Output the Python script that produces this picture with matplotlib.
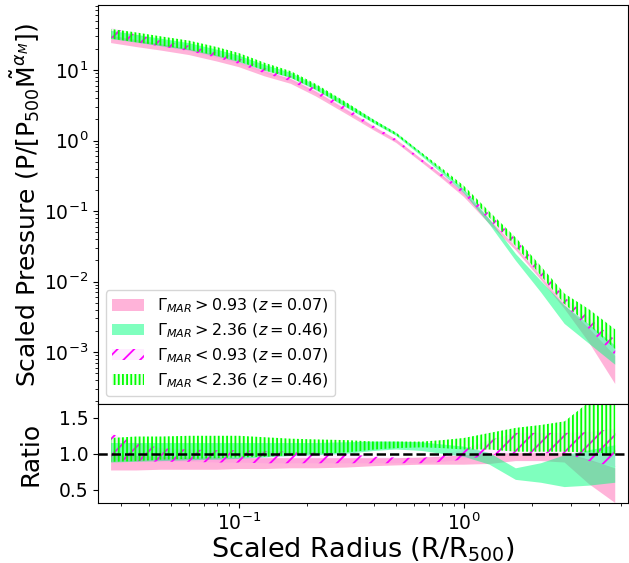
import matplotlib
matplotlib.use("Agg")
import matplotlib.pyplot as plt
import numpy as np

# radial bins (R/R500)
radius = [0.027, 0.035, 0.045, 0.06, 0.08, 0.1, 0.13, 0.17, 0.22, 0.3, 0.4,
          0.5, 0.65, 0.8, 1.0, 1.3, 1.7, 2.2, 2.8, 3.6, 4.7]

# reference (median) scaled pressure profile used for the ratio
ref_pressure = [31.3, 27.5, 24.2, 20.9, 16.9, 13.9, 10.3, 7.96, 5.27, 2.93, 1.66,
                1.10, 0.571, 0.338, 0.186, 0.0755, 0.0308, 0.0117, 0.00464,
                0.00234, 0.00110]

# ratio bands (lower, upper) for each subsample
hi_z007_lo = [0.77, 0.77, 0.78, 0.78, 0.78, 0.79, 0.79, 0.80, 0.80, 0.81, 0.83,
              0.84, 0.85, 0.85, 0.85, 0.86, 0.90, 0.90, 0.88, 0.58, 0.32]
hi_z007_hi = [0.98, 0.97, 0.96, 0.95, 0.95, 0.94, 0.94, 0.94, 0.94, 0.94, 0.94,
              0.94, 0.95, 0.96, 0.98, 1.00, 1.01, 1.01, 1.01, 0.92, 0.80]

hi_z046_lo = [0.88, 0.89, 0.90, 0.91, 0.92, 0.93, 0.95, 0.97, 0.98, 1.00, 1.04,
              1.06, 1.04, 1.00, 0.96, 0.85, 0.64, 0.60, 0.54, 0.56, 0.60]
hi_z046_hi = [1.15, 1.15, 1.15, 1.15, 1.15, 1.15, 1.15, 1.15, 1.15, 1.16, 1.17,
              1.17, 1.16, 1.13, 1.10, 1.01, 0.80, 0.87, 0.98, 1.05, 1.12]

lo_z007_lo = [0.92, 0.90, 0.89, 0.89, 0.88, 0.88, 0.87, 0.87, 0.87, 0.87, 0.87,
              0.87, 0.87, 0.89, 0.92, 0.98, 1.01, 1.01, 1.01, 0.90, 0.82]
lo_z007_hi = [1.28, 1.15, 1.08, 1.06, 1.05, 1.05, 1.04, 1.03, 1.02, 1.00, 0.96,
              0.95, 0.94, 0.99, 1.06, 1.19, 1.29, 1.29, 1.29, 1.30, 1.35]

lo_z046_lo = [0.89, 0.90, 0.92, 0.93, 0.94, 0.95, 0.96, 0.98, 1.00, 1.02, 1.06,
              1.08, 1.09, 1.08, 1.06, 1.06, 1.03, 1.03, 1.03, 1.02, 1.00]
lo_z046_hi = [1.22, 1.24, 1.24, 1.25, 1.25, 1.25, 1.23, 1.21, 1.20, 1.19, 1.17,
              1.17, 1.17, 1.19, 1.22, 1.29, 1.36, 1.40, 1.45, 1.72, 1.90]

labels = [r"$\Gamma_{MAR} > 0.93$ $(z = 0.07)$",
          r"$\Gamma_{MAR} > 2.36$ $(z = 0.46)$",
          r"$\Gamma_{MAR} < 0.93$ $(z = 0.07)$",
          r"$\Gamma_{MAR} < 2.36$ $(z = 0.46)$"]

plt.rcParams["hatch.linewidth"] = 1.3

x = np.array(radius)
ref = np.array(ref_pressure)
bands = [(hi_z007_lo, hi_z007_hi), (hi_z046_lo, hi_z046_hi),
         (lo_z007_lo, lo_z007_hi), (lo_z046_lo, lo_z046_hi)]
styles = [
    dict(facecolor="hotpink", alpha=0.5, linewidth=0),
    dict(facecolor="springgreen", alpha=0.5, linewidth=0),
    dict(facecolor=(1, 0, 1, 0.07), edgecolor="magenta", hatch="//", linewidth=0),
    dict(facecolor=(0, 1, 0, 0.07), edgecolor="lime", hatch="||||", linewidth=0),
]

fig = plt.figure(figsize=(6.29, 5.63), dpi=100)
ax = fig.add_axes([0.1558, 0.2824, 0.8426, 0.7087])
axr = fig.add_axes([0.1558, 0.1066, 0.8426, 0.1758], sharex=ax)

for (lo, hi), st, lab in zip(bands, styles, labels):
    lo = np.array(lo)
    hi = np.array(hi)
    ax.fill_between(x, lo * ref, hi * ref, label=lab, **st)
    axr.fill_between(x, lo, hi, **st)

axr.axhline(1.0, color="black", ls="--", lw=1.8)

ax.set_xscale("log")
ax.set_yscale("log")
ax.set_xlim(0.02362, 5.356)
ax.set_ylim(1.83e-4, 83.6)
axr.set_ylim(0.32, 1.69)
axr.set_yticks([0.5, 1.0, 1.5])

ax.tick_params(labelbottom=False, labelsize=13.5)
axr.tick_params(labelsize=13.5)

ax.set_ylabel(r"Scaled Pressure (P/[P$_{500}\tilde{\mathrm{M}}^{\alpha_M}$])",
              fontsize=18)
axr.set_ylabel("Ratio", fontsize=18)
axr.set_xlabel(r"Scaled Radius (R/R$_{500}$)", fontsize=19.5, labelpad=1)
ax.yaxis.set_label_coords(-0.105, 0.5)
axr.yaxis.set_label_coords(-0.105, 0.5)

ax.legend(loc="lower left", fontsize=11.5, labelspacing=0.4)

fig.savefig("out.png", dpi=100)
